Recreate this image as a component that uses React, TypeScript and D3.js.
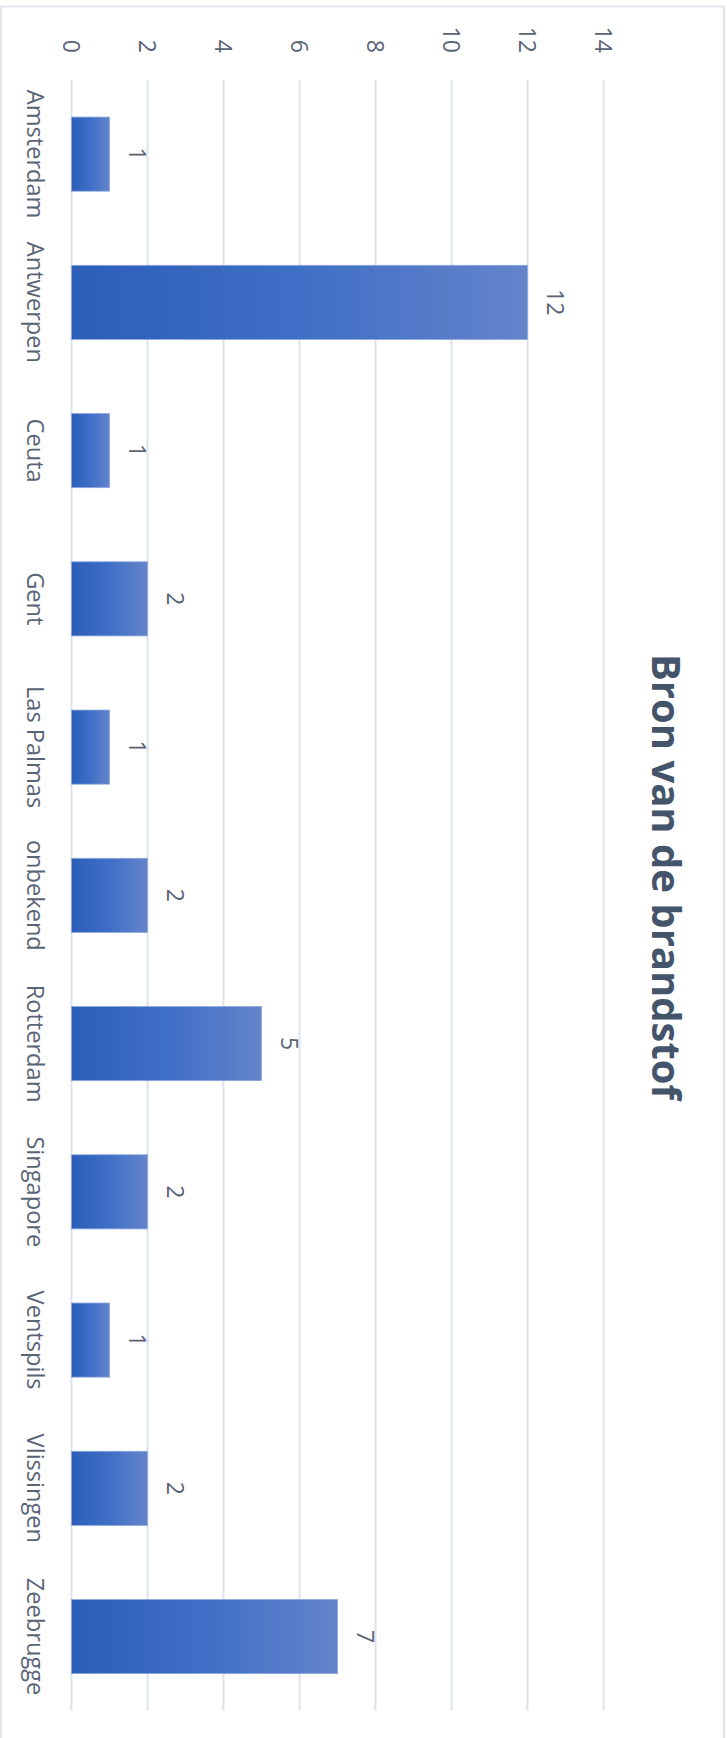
import React from "react";
import * as d3 from "d3";

const categories = ["Amsterdam", "Antwerpen", "Ceuta", "Gent", "Las Palmas", "onbekend", "Rotterdam", "Singapore", "Ventspils", "Vlissingen", "Zeebrugge"];
const values = [1, 12, 1, 2, 1, 2, 5, 2, 1, 2, 7];
const tickValues = [0, 2, 4, 6, 8, 10, 12, 14];
const title = "Bron van de brandstof";

const PAGE_W = 727;
const PAGE_H = 1738;
// chart drawn in unrotated orientation, then rotated 90deg clockwise
const W = PAGE_H; // 1738
const H = PAGE_W; // 727

export default function App() {
  const x = d3.scaleBand<string>().domain(categories).range([80, 1710.7]).paddingInner(0.5).paddingOuter(0.25);
  const y = d3.scaleLinear().domain([0, 14]).range([655.5, 123.5]);
  const font = "'Open Sans', 'DejaVu Sans', sans-serif";
  const textColor = "#5A6477";

  return (
    <svg width={PAGE_W} height={PAGE_H} style={{ position: "absolute", left: 0, top: 0, display: "block" }}>
      <defs>
        <linearGradient id="barGrad" x1="0" y1="1" x2="0" y2="0">
          <stop offset="0" stopColor="#2C5EB8" />
          <stop offset="0.5" stopColor="#3F6FC6" />
          <stop offset="1" stopColor="#6484CA" />
        </linearGradient>
      </defs>
      <rect x={0} y={0} width={PAGE_W} height={PAGE_H} fill="#fff" />
      <rect x={1} y={6.5} width={723} height={1760} fill="none" stroke="#DFE3EA" strokeWidth={1.8} />
      <g transform={`translate(${H},0) rotate(90)`}>
        {tickValues.map((t) => (
          <line key={"g" + t} x1={80} x2={1710.7} y1={y(t)} y2={y(t)} stroke="#DEE2EA" strokeWidth={2} />
        ))}
        {tickValues.map((t) => (
          <text key={"t" + t} x={53} y={y(t)} dy="0.36em" textAnchor="end" fontFamily={font} fontSize={23} fill={textColor}>
            {t}
          </text>
        ))}
        {categories.map((c, i) => (
          <g key={c}>
            <rect
              x={x(c)!}
              y={y(values[i])}
              width={x.bandwidth()}
              height={y(0) - y(values[i])}
              fill="url(#barGrad)"
              stroke="#8EA8DC"
              strokeWidth={0.8}
            />
            <text x={x(c)! + x.bandwidth() / 2} y={y(values[i]) - 19} textAnchor="middle" fontFamily={font} fontSize={23} fill={textColor}>
              {values[i]}
            </text>
            <text x={x(c)! + x.bandwidth() / 2} y={700} textAnchor="middle" fontFamily={font} fontSize={23.6} fill={textColor}>
              {c}
            </text>
          </g>
        ))}
        <text x={877} y={75} textAnchor="middle" fontFamily={font} fontWeight="bold" fontSize={40} fill="#44546A">
          {title}
        </text>
      </g>
    </svg>
  );
}
